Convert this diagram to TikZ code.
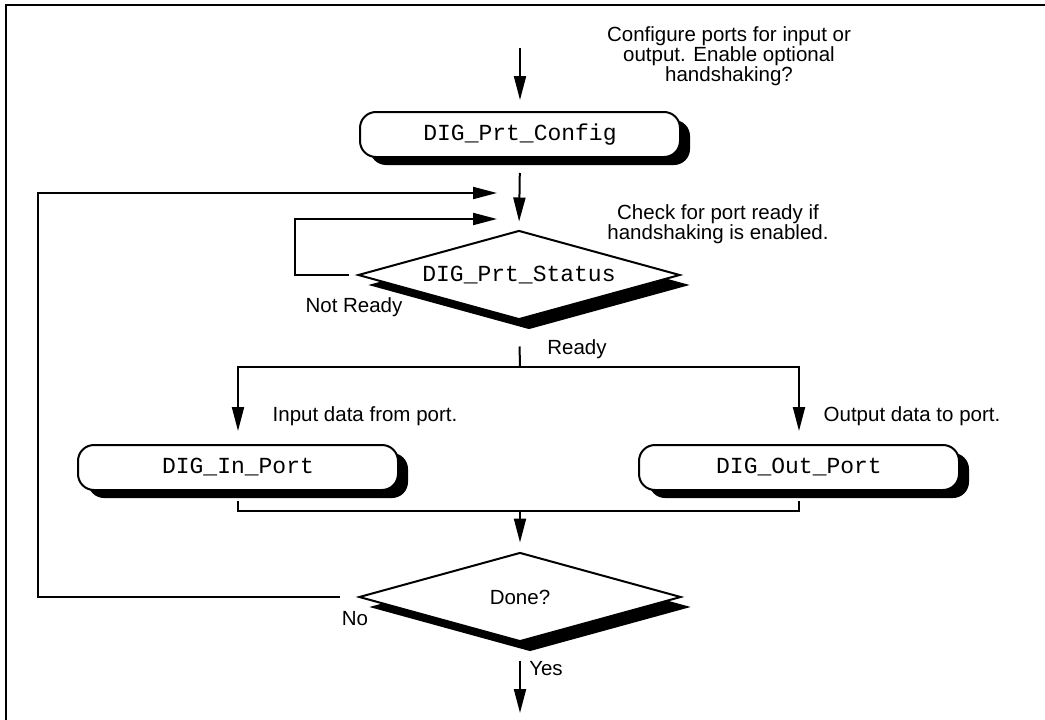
\documentclass[tikz,border=0pt]{standalone}
\usepackage{fontspec}
\setmainfont{Liberation Sans}
\setmonofont{Liberation Mono}
\usetikzlibrary{arrows.meta,shapes.geometric,shadows}

\tikzset{
  line/.style={line width=2pt},
  arrow/.style={line width=2pt, -{Triangle[length=24pt,width=12pt]}},
  callbox/.style={draw, line width=2pt, fill=white, rectangle, rounded corners=16pt,
    minimum width=320pt, minimum height=45pt, inner sep=0pt,
    font=\ttfamily\fontsize{23}{23}\selectfont,
    drop shadow={shadow xshift=10pt, shadow yshift=-8pt, fill=black, opacity=1}},
  decision/.style={draw, line width=2pt, fill=white, diamond, aspect=3.6,
    minimum width=322pt, minimum height=89pt, inner sep=0pt,
    drop shadow={shadow xshift=10pt, shadow yshift=-10pt, fill=black, opacity=1}},
  note/.style={font=\fontsize{20.5}{19}\selectfont, align=center, inner sep=0pt},
}

\begin{document}
\begin{tikzpicture}[x=1pt, y=-1pt]
  \useasboundingbox (0,0) rectangle (1045,720);
  \fill[white] (0,0) rectangle (1045,720);

  % frame
  \draw[line width=2.2pt] (6,720) -- (6,5) -- (1046,5);

  % nodes
  \node[callbox] (cfg) at (520,134.5) {DIG\_Prt\_Config};
  \node[decision, font=\ttfamily\fontsize{23}{23}\selectfont] (st) at (519,275) {DIG\_Prt\_Status};
  \node[callbox] (in) at (238,467.5) {DIG\_In\_Port};
  \node[callbox] (out) at (799,467.5) {DIG\_Out\_Port};
  \node[decision, font=\fontsize{20.5}{19}\selectfont] (done) at (520,597) {Done?};

  % helper points
  \coordinate (start) at (520,48);
  \coordinate (loopL) at (38,193);
  \coordinate (loopEnd) at (497,193);
  \coordinate (nrL) at (295,219);
  \coordinate (nrEnd) at (497,219);
  \coordinate (split) at (520,367);
  \coordinate (merge) at (520,511);
  \coordinate (exit) at (520,713);

  % connectors
  \draw[arrow, shorten >=11pt] (start) -- (cfg.north);
  \draw[arrow, shorten <=15pt, shorten >=8pt] (cfg.south) -- (st.north);
  \draw[arrow] ([xshift=-8pt]st.west) -| (nrL) -- (nrEnd);
  \draw[line, shorten <=26pt] (st.south) -- (split);
  \draw[arrow, shorten >=13pt] (split) -| (in.north);
  \draw[arrow, shorten >=13pt] (split) -| (out.north);
  \draw[line] ([yshift=-10pt]in.south) |- (merge) -| ([yshift=-10pt]out.south);
  \draw[arrow, shorten >=9pt] (merge) -- (done.north);
  \draw[arrow] ([xshift=-18pt]done.west) -| (loopL) -- (loopEnd);
  \draw[arrow, shorten <=18pt] (done.south) -- (exit);

  % labels
  \node[note] (cfgnote) at (729,56) {Configure ports for input or\\output. Enable optional\\handshaking?};
  \node[note] (stnote) at (718,224) {Check for port ready if\\handshaking is enabled.};
  \node[note] (notready) at (354,307) {Not Ready};
  \node[note] (ready) at (577,349) {Ready};
  \node[note] (innote) at (365,416) {Input data from port.};
  \node[note] (outnote) at (912,416) {Output data to port.};
  \node[note] (no) at (355,619) {No};
  \node[note] (yes) at (546,669) {Yes};
\end{tikzpicture}
\end{document}
